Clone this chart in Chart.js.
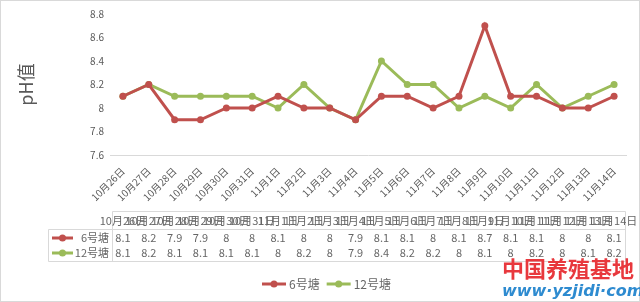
<!DOCTYPE html>
<html>
<head>
<meta charset="utf-8">
<script src="https://cdn.jsdelivr.net/npm/chart.js@4/dist/chart.umd.min.js"></script>
<style>
  html, body { margin: 0; padding: 0; background: #fff; }
  canvas { display: block; }
</style>
</head>
<body>
<canvas id="phChart" width="640" height="302"></canvas>
<script>
// 日期
const dates = ['10月26日','10月27日','10月28日','10月29日','10月30日','10月31日','11月1日','11月2日','11月3日','11月4日',
               '11月5日','11月6日','11月7日','11月8日','11月9日','11月10日','11月11日','11月12日','11月13日','11月14日'];
// pH值
const pond6  = [8.1, 8.2, 7.9, 7.9, 8, 8, 8.1, 8, 8, 7.9, 8.1, 8.1, 8, 8.1, 8.7, 8.1, 8.1, 8, 8, 8.1];
const pond12 = [8.1, 8.2, 8.1, 8.1, 8.1, 8.1, 8, 8.2, 8, 7.9, 8.4, 8.2, 8.2, 8, 8.1, 8, 8.2, 8, 8.1, 8.2];
const yTicks = [7.6, 7.8, 8, 8.2, 8.4, 8.6, 8.8];

const RED = '#C0504D';
const GREEN = '#9BBB59';
const TXT = '#595959';
const LINE = '#d9d9d9';
const FONT = '"Noto Sans CJK SC", "Open Sans", sans-serif';

// 数据表 + 图例 + 水印
const tablePlugin = {
    id: 'dataTable',
    beforeDraw(chart) {
        const ctx = chart.ctx;
        ctx.save();
        ctx.fillStyle = '#fff';
        ctx.fillRect(0, 0, chart.width, chart.height);
        ctx.strokeStyle = LINE;
        ctx.lineWidth = 1;
        ctx.strokeRect(0.5, 0.5, chart.width - 1, chart.height - 1);
        ctx.restore();
    },
    afterDraw(chart) {
        const ctx = chart.ctx;
        const x = chart.scales.x;
        const ds = chart.data.datasets;
        const left = 48, labelRight = 112, right = 625;
        const top = 211, rowTop = 229, bottom = 261;

        ctx.save();
        ctx.strokeStyle = LINE;
        ctx.lineWidth = 1;
        ctx.beginPath();
        ctx.moveTo(labelRight + 0.5, top + 0.5); ctx.lineTo(right + 0.5, top + 0.5);
        ctx.moveTo(left + 0.5, rowTop + 0.5); ctx.lineTo(right + 0.5, rowTop + 0.5);
        ctx.moveTo(left + 0.5, bottom + 0.5); ctx.lineTo(right + 0.5, bottom + 0.5);
        ctx.moveTo(left + 0.5, rowTop + 0.5); ctx.lineTo(left + 0.5, bottom + 0.5);
        ctx.moveTo(labelRight + 0.5, top + 0.5); ctx.lineTo(labelRight + 0.5, bottom + 0.5);
        ctx.moveTo(right + 0.5, top + 0.5); ctx.lineTo(right + 0.5, bottom + 0.5);
        ctx.stroke();

        ctx.fillStyle = '#666';
        ctx.textAlign = 'center';
        ctx.textBaseline = 'middle';
        ctx.font = '11px ' + FONT;
        dates.forEach((d, i) => ctx.fillText(d, x.getPixelForValue(i), 221));

        const rowsY = [238, 253];
        ds.forEach((set, r) => {
            const y = rowsY[r];
            ctx.font = '11px ' + FONT;
            set.data.forEach((v, i) => {
                ctx.fillStyle = '#666';
                ctx.textAlign = 'center';
                ctx.fillText(String(v), x.getPixelForValue(i), y);
            });
            // 行标题
            drawKey(ctx, 52, y, set.borderColor, 21);
            ctx.fillStyle = '#666';
            ctx.textAlign = 'right';
            ctx.font = '11px ' + FONT;
            ctx.fillText(set.label, 109, y);
        });

        // 图例
        let lx = 262;
        ctx.font = '12px ' + FONT;
        ds.forEach(set => {
            drawKey(ctx, lx, 284, set.borderColor, 24);
            ctx.fillStyle = '#666';
            ctx.textAlign = 'left';
            ctx.fillText(set.label, lx + 27, 284);
            lx += 27 + ctx.measureText(set.label).width + 7;
        });

        // 水印
        ctx.textAlign = 'left';
        ctx.fillStyle = '#e8383d';
        ctx.font = 'bold 22px "Noto Sans CJK SC", sans-serif';
        ctx.fillText('中国养殖基地', 502, 269);
        ctx.fillStyle = '#2e8bd0';
        ctx.font = 'italic bold 16px "DejaVu Sans", sans-serif';
        ctx.fillText('www·yzjidi·com', 502, 292);
        ctx.restore();
    }
};

function drawKey(ctx, x0, y, color, len) {
    ctx.strokeStyle = color;
    ctx.lineWidth = 3;
    ctx.beginPath();
    ctx.moveTo(x0, y); ctx.lineTo(x0 + len, y);
    ctx.stroke();
    ctx.fillStyle = color;
    ctx.beginPath();
    ctx.arc(x0 + len / 2, y, 3.5, 0, Math.PI * 2);
    ctx.fill();
}

const ctx = document.getElementById('phChart').getContext('2d');
new Chart(ctx, {
    type: 'line',
    data: {
        labels: dates,
        datasets: [
            { label: '6号塘', data: pond6, borderColor: RED, backgroundColor: RED,
              borderWidth: 3, pointRadius: 3.5, pointBorderWidth: 0, tension: 0 },
            { label: '12号塘', data: pond12, borderColor: GREEN, backgroundColor: GREEN,
              borderWidth: 3, pointRadius: 3.5, pointBorderWidth: 0, tension: 0 }
        ]
    },
    options: {
        responsive: false,
        animation: false,
        events: [],
        layout: { padding: { top: 14, right: 13, left: 0, bottom: 0 } },
        plugins: { legend: { display: false }, tooltip: { enabled: false } },
        scales: {
            x: {
                offset: true,
                grid: { display: false },
                border: { display: false },
                ticks: { color: TXT, font: { family: FONT, size: 10 }, minRotation: 45, maxRotation: 45, autoSkip: false, padding: 2 },
                afterFit: s => { s.height = 147; }
            },
            y: {
                min: 7.6, max: 8.8,
                afterBuildTicks: s => { s.ticks = yTicks.map(v => ({ value: v })); },
                grid: { color: c => c.tick && c.tick.value === 7.6 ? LINE : 'rgba(0,0,0,0)', drawTicks: false },
                border: { display: false },
                ticks: { color: TXT, font: { family: FONT, size: 10 }, padding: 6,
                         callback: v => String(parseFloat(Number(v).toFixed(1))) },
                title: { display: true, text: 'pH值', color: TXT, font: { family: FONT, size: 18 }, padding: { top: 15, bottom: 0 } },
                afterFit: s => { s.width = 110; }
            }
        }
    },
    plugins: [tablePlugin]
});
</script>
</body>
</html>
